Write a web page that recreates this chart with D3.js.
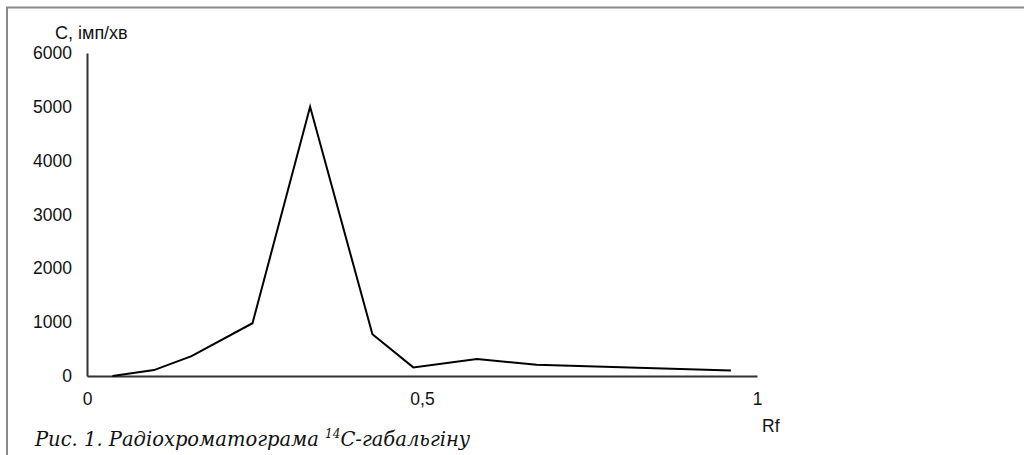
<!DOCTYPE html>
<html>
<head>
<meta charset="utf-8">
<script src="https://cdn.jsdelivr.net/npm/d3@7"></script>
<style>
  body { margin: 0; background: #fff; }
  svg { display: block; }
</style>
</head>
<body>
<svg id="canvas" width="1024" height="455"></svg>
<script>
// Rf values and activity (imp/min)
let rfValues = [0.038, 0.1, 0.156, 0.247, 0.333, 0.426, 0.487, 0.582, 0.671, 0.961]
let counts = [0, 110, 370, 980, 5000, 775, 160, 316, 210, 100]
let yTicks = [0, 1000, 2000, 3000, 4000, 5000, 6000]
let xTicks = [0, 0.5, 1]

let canvas = d3.select('#canvas')

let xScale = d3.scaleLinear().domain([0, 1]).range([87, 757])
let yScale = d3.scaleLinear().domain([0, 6000]).range([376, 53])

// frame (top and left only)
canvas.append('path')
    .attr('d', 'M7,455 V7.5 H1024')
    .attr('fill', 'none')
    .attr('stroke', '#8a8a8a')
    .attr('stroke-width', 2)

let yAxis = d3.axisLeft(yScale).tickValues(yTicks).tickSize(0).tickPadding(15)
    .tickFormat(d3.format('d'))
let xAxis = d3.axisBottom(xScale).tickValues(xTicks).tickSize(0).tickPadding(17)
    .tickFormat((d) => String(d).replace('.', ','))

let gy = canvas.append('g').attr('transform', 'translate(87,0)').call(yAxis)
let gx = canvas.append('g').attr('transform', 'translate(0,376)').call(xAxis)

for (let g of [gx, gy]) {
    g.select('.domain').attr('stroke', '#333').attr('stroke-width', 2)
    g.selectAll('text')
        .attr('font-family', 'Liberation Sans, Arial, sans-serif')
        .attr('font-size', 17.5)
        .attr('fill', '#111')
}

let line = d3.line()
    .x((d, i) => xScale(rfValues[i]))
    .y((d) => yScale(d))

canvas.append('path')
    .datum(counts)
    .attr('d', line)
    .attr('fill', 'none')
    .attr('stroke', '#000')
    .attr('stroke-width', 2)

canvas.append('text')
    .text('С, імп/хв')
    .attr('x', 55)
    .attr('y', 39)
    .attr('font-family', 'Liberation Sans, Arial, sans-serif')
    .attr('font-size', 18)
    .attr('fill', '#111')

canvas.append('text')
    .text('Rf')
    .attr('x', 762)
    .attr('y', 432)
    .attr('font-family', 'Liberation Sans, Arial, sans-serif')
    .attr('font-size', 17.5)
    .attr('fill', '#111')

let caption = canvas.append('text')
    .attr('x', 35)
    .attr('y', 446)
    .attr('font-family', 'DejaVu Serif, Georgia, serif')
    .attr('font-style', 'italic')
    .attr('font-size', 19.5)
    .attr('fill', '#111')
caption.append('tspan').text('Рис. 1. Радіохроматограма ')
caption.append('tspan').text('14').attr('font-size', 12).attr('dy', -8)
caption.append('tspan').text('С-габальгіну').attr('dy', 8)
</script>
</body>
</html>
